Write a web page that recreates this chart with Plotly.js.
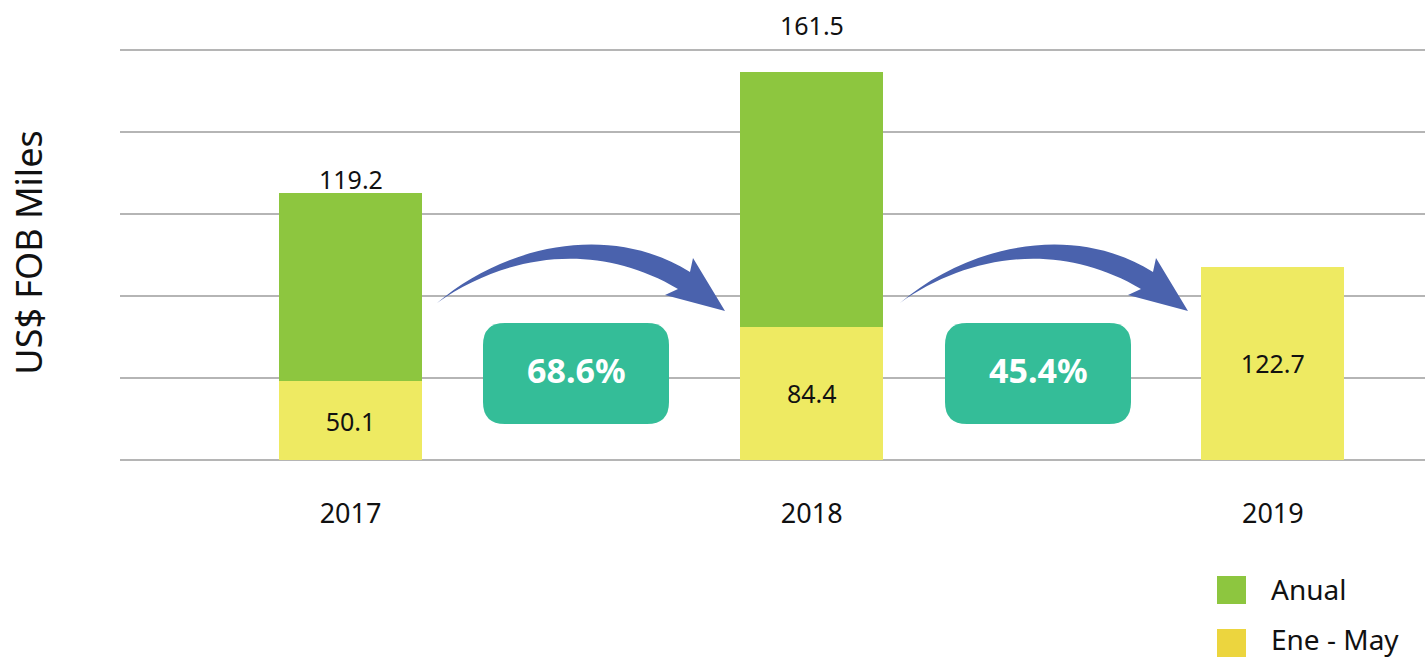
<!DOCTYPE html>
<html>
<head>
<meta charset="utf-8">
<script src="https://cdn.plot.ly/plotly-3.0.1.min.js"></script>
<style>html,body{margin:0;padding:0;background:#fff;}#chart{width:1428px;height:660px;}</style>
</head>
<body>
<div id="chart"></div>
<script>
// ---- data ----
const years = ['2017', '2018', '2019'];
const eneMay = [50.1, 84.4, 122.7];
const anual = [119.2, 161.5, null];
const growthLabels = ['68.6%', '45.4%'];
const seriesNames = ['Anual', 'Ene - May'];
const yTitle = 'US$ FOB Miles';

// ---- styling ----
const FONT = 'Noto Sans, Open Sans, sans-serif';
const GREEN = '#8dc63f';
const YELLOW = '#eeea62';
const YELLOW_LEG = '#ecd53e';
const TEAL = '#34bd98';
const BLUE = '#4a62ad';
const W = 1428, H = 660;
const M = {l: 120, r: 3, t: 45, b: 200};
const PW = W - M.l - M.r, PH = H - M.t - M.b;
const px = X => ((X - M.l) / PW).toFixed(5);
const py = Y => ((M.t + PH - Y) / PH).toFixed(5);
function pathFrom(cmds) {
  return cmds.map(c => c[0] + ' ' + c.slice(1).reduce((a, v, i) => {
    if (i % 2 === 0) a.push(px(v)); else a[a.length - 1] += ',' + py(v);
    return a;
  }, []).join(' ')).join(' ') + ' Z';
}
function roundRect(x0, y0, x1, y1, r) {
  return pathFrom([
    ['M', x0 + r, y0], ['L', x1 - r, y0], ['Q', x1, y0, x1, y0 + r],
    ['L', x1, y1 - r], ['Q', x1, y1, x1 - r, y1], ['L', x0 + r, y1],
    ['Q', x0, y1, x0, y1 - r], ['L', x0, y0 + r], ['Q', x0, y0, x0 + r, y0]
  ]);
}
function arrow(dx) {
  return pathFrom([
    ['M', 437 + dx, 303],
    ['C', 505 + dx, 245, 610 + dx, 222, 690 + dx, 272],
    ['L', 693 + dx, 258], ['L', 725 + dx, 311], ['L', 665 + dx, 295], ['L', 678 + dx, 289],
    ['C', 595 + dx, 240, 505 + dx, 255, 437 + dx, 303]
  ]);
}

const traces = [
  {type: 'bar', name: seriesNames[1], x: years, y: eneMay, width: 0.31,
   marker: {color: YELLOW}, text: eneMay.map(v => v.toFixed(1)), textposition: 'inside',
   insidetextanchor: 'middle', constraintext: 'none', textangle: 0,
   textfont: {family: FONT, size: 25, color: '#111'}, showlegend: false, hoverinfo: 'x+y'},
  {type: 'bar', name: seriesNames[0], x: years, y: anual, width: 0.31,
   marker: {color: GREEN}, showlegend: false, hoverinfo: 'x+y'}
];

const labelShift = [14, 47];
const annotations = [];
anual.forEach((v, i) => {
  if (v == null) return;
  annotations.push({xref: 'x', yref: 'y', x: i, y: eneMay[i] + v, yshift: labelShift[i], text: v.toFixed(1),
    showarrow: false, xanchor: 'center', yanchor: 'middle', font: {family: FONT, size: 25, color: '#111'}});
});
const boxes = [[483, 323, 669, 424], [945, 323, 1131, 424]];
const shapes = [];
growthLabels.forEach((g, i) => {
  const b = boxes[i];
  shapes.push({type: 'path', xref: 'paper', yref: 'paper', path: roundRect(b[0], b[1], b[2], b[3], 22),
    fillcolor: TEAL, line: {width: 0}});
  shapes.push({type: 'path', xref: 'paper', yref: 'paper', path: arrow(i * 463),
    fillcolor: BLUE, line: {width: 0}});
  annotations.push({xref: 'paper', yref: 'paper', x: px((b[0] + b[2]) / 2), y: py(370),
    text: '<b>' + g + '</b>', showarrow: false, xanchor: 'center', yanchor: 'middle',
    font: {family: FONT, size: 34, color: '#ffffff'}});
});
// legend
const legColors = [GREEN, YELLOW_LEG];
const legY = [590, 643];
const legTextY = [589, 639];
seriesNames.forEach((n, i) => {
  shapes.push({type: 'rect', xref: 'paper', yref: 'paper', x0: px(1217), x1: px(1246),
    y0: py(legY[i] - 14), y1: py(legY[i] + 14), fillcolor: legColors[i], line: {width: 0}});
  annotations.push({xref: 'paper', yref: 'paper', x: px(1270), y: py(legTextY[i]), text: n,
    showarrow: false, xanchor: 'left', yanchor: 'middle', borderpad: 0,
    font: {family: FONT, size: 28, color: '#111'}});
});

const layout = {
  width: W, height: H, margin: M, paper_bgcolor: '#fff', plot_bgcolor: '#fff',
  barmode: 'stack', showlegend: false, font: {family: FONT, color: '#111'},
  xaxis: {type: 'category', range: [-0.5, 2.33], showgrid: false, zeroline: false, showline: false,
    ticks: 'outside', ticklen: 30, tickcolor: 'rgba(0,0,0,0)', tickfont: {family: FONT, size: 27, color: '#111'}},
  yaxis: {range: [0, 263.17], dtick: 52, tick0: 0, showticklabels: false, showgrid: true,
    gridcolor: '#b5b5b5', gridwidth: 2.5, zeroline: true, zerolinecolor: '#b5b5b5', zerolinewidth: 2.5,
    title: {text: yTitle, font: {family: FONT, size: 36, color: '#111'}, standoff: 65}},
  shapes: shapes, annotations: annotations
};
Plotly.newPlot('chart', traces, layout, {displayModeBar: false, staticPlot: true});
</script>
</body>
</html>
